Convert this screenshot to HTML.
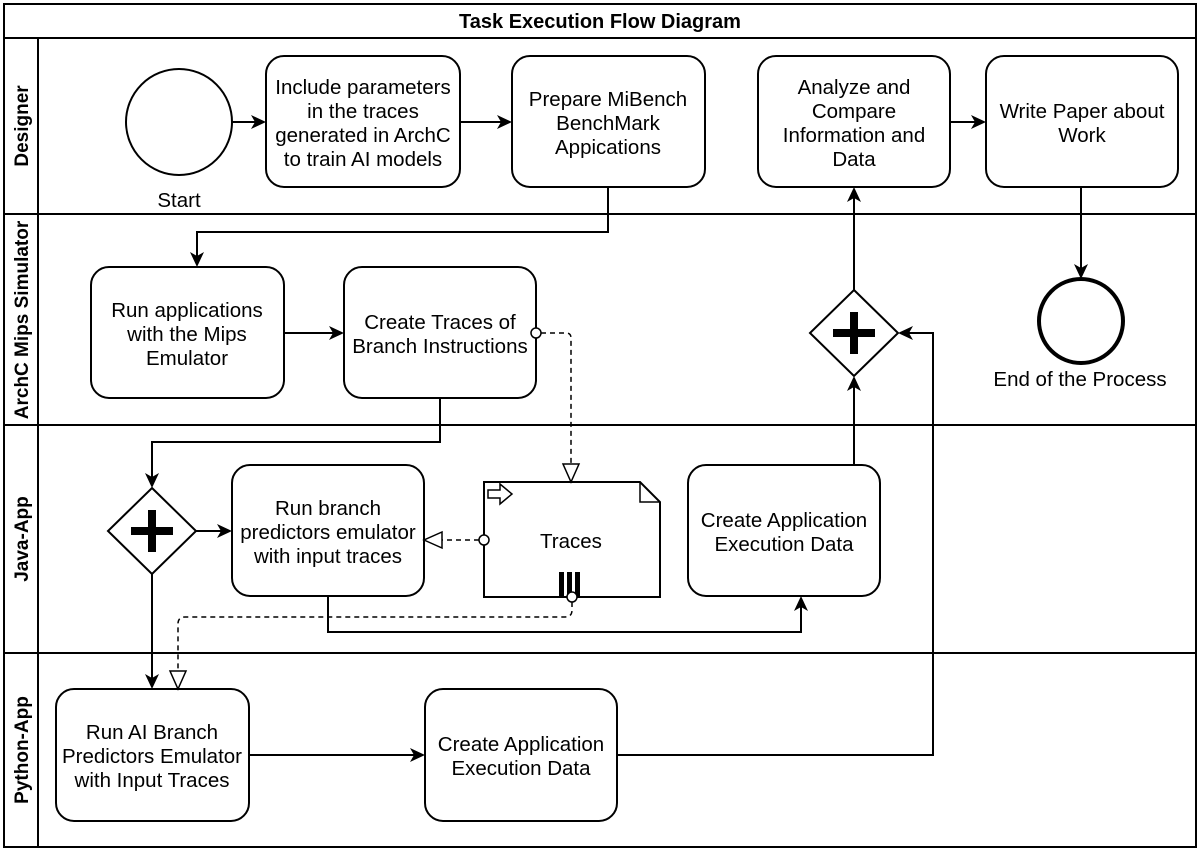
<!DOCTYPE html>
<html><head><meta charset="utf-8"><style>
html,body{margin:0;padding:0;background:#fff;}
svg{display:block;}
text{font-family:"Liberation Sans",Arial,sans-serif;fill:#000;}
.t{font-size:20.5px;text-anchor:middle;}
.l{font-size:19px;font-weight:bold;text-anchor:middle;}
.lt{font-size:20px;font-weight:bold;text-anchor:middle;}
</style></head><body>
<svg width="1200" height="851" viewBox="0 0 1200 851" xmlns="http://www.w3.org/2000/svg">
<defs>
<path id="ar" d="M0,0 L-15,-7 L-11,0 L-15,7 Z" fill="#000"/>
<path id="hw" d="M0,0 L-18,-8 L-18,8 Z" fill="#fff" stroke="#000" stroke-width="1.5"/>
</defs>
<g fill="none" stroke="#000" stroke-width="2">
<rect x="4" y="4" width="1192" height="843"/>
<line x1="4" y1="38" x2="1196" y2="38"/>
<line x1="38" y1="38" x2="38" y2="847"/>
<line x1="4" y1="214" x2="1196" y2="214"/>
<line x1="4" y1="425" x2="1196" y2="425"/>
<line x1="4" y1="653" x2="1196" y2="653"/>
</g>
<text x="600" y="28" class="lt">Task Execution Flow Diagram</text>
<text class="l" transform="translate(28,126) rotate(-90)">Designer</text>
<text class="l" transform="translate(28,320) rotate(-90)">ArchC Mips Simulator</text>
<text class="l" transform="translate(28,539) rotate(-90)">Java-App</text>
<text class="l" transform="translate(28,750) rotate(-90)">Python-App</text>

<g fill="#fff" stroke="#000" stroke-width="2">
<circle cx="179" cy="122" r="53"/>
<rect x="266" y="56" width="194" height="131" rx="18"/>
<rect x="512" y="56" width="193" height="131" rx="18"/>
<rect x="758" y="56" width="192" height="131" rx="18"/>
<rect x="986" y="56" width="192" height="131" rx="18"/>
<circle cx="1081" cy="321" r="42" stroke-width="4"/>
<rect x="91" y="267" width="193" height="131" rx="18"/>
<rect x="344" y="267" width="192" height="131" rx="18"/>
<path d="M854,290 L898,333 L854,376 L810,333 Z"/>
<path d="M152,488 L196,531 L152,574 L108,531 Z"/>
<rect x="232" y="465" width="192" height="131" rx="18"/>
<path d="M484,482 L640,482 L660,502 L660,597 L484,597 Z"/>
<rect x="688" y="465" width="192" height="131" rx="18"/>
<rect x="56" y="689" width="193" height="132" rx="18"/>
<rect x="425" y="689" width="192" height="132" rx="18"/>
</g>
<path d="M640,482 L640,502 L660,502" fill="none" stroke="#000" stroke-width="1.5"/>
<path d="M488,490 L500,490 L500,484 L512,494 L500,504 L500,498 L488,498 Z" fill="#fff" stroke="#000" stroke-width="1.5"/>
<rect x="559" y="572" width="5" height="25" fill="#000"/>
<rect x="567" y="572" width="5" height="25" fill="#000"/>
<rect x="575" y="572" width="5" height="25" fill="#000"/>
<g fill="#000">
<rect x="833" y="329" width="42" height="8"/><rect x="850" y="312" width="8" height="42"/>
<rect x="131" y="527" width="42" height="8"/><rect x="148" y="510" width="8" height="42"/>
</g>

<g fill="none" stroke="#000" stroke-width="2">
<path d="M232,122 L262,122"/>
<path d="M460,122 L508,122"/>
<path d="M608,187 L608,232 L197,232 L197,263"/>
<path d="M284,333 L340,333"/>
<path d="M440,398 L440,442 L152,442 L152,484"/>
<path d="M196,531 L228,531"/>
<path d="M328,596 L328,632 L801,632 L801,600"/>
<path d="M152,574 L152,685"/>
<path d="M249,755 L421,755"/>
<path d="M617,755 L933,755 L933,333 L902,333"/>
<path d="M854,465 L854,380"/>
<path d="M854,290 L854,191"/>
<path d="M950,122 L982,122"/>
<path d="M1081,187 L1081,275"/>
</g>
<use href="#ar" transform="translate(266,122)"/>
<use href="#ar" transform="translate(512,122)"/>
<use href="#ar" transform="translate(197,267) rotate(90)"/>
<use href="#ar" transform="translate(344,333)"/>
<use href="#ar" transform="translate(152,488) rotate(90)"/>
<use href="#ar" transform="translate(232,531)"/>
<use href="#ar" transform="translate(801,596) rotate(-90)"/>
<use href="#ar" transform="translate(152,689) rotate(90)"/>
<use href="#ar" transform="translate(425,755)"/>
<use href="#ar" transform="translate(898,333) rotate(180)"/>
<use href="#ar" transform="translate(854,376) rotate(-90)"/>
<use href="#ar" transform="translate(854,187) rotate(-90)"/>
<use href="#ar" transform="translate(986,122)"/>
<use href="#ar" transform="translate(1081,279) rotate(90)"/>

<g fill="none" stroke="#000" stroke-width="1.5" stroke-dasharray="5,4">
<path d="M541,333 L566,333 Q571,333 571,338 L571,464"/>
<path d="M479,540 L442,540"/>
<path d="M572,602 L572,610 Q572,617 565,617 L185,617 Q178,617 178,624 L178,671"/>
</g>
<use href="#hw" transform="translate(571,482) rotate(90)"/>
<use href="#hw" transform="translate(424,540) rotate(180)"/>
<use href="#hw" transform="translate(178,689) rotate(90)"/>
<g fill="#fff" stroke="#000" stroke-width="1.5">
<circle cx="536" cy="333" r="5"/>
<circle cx="484" cy="540" r="5"/>
<circle cx="572" cy="597" r="5"/>
</g>

<text class="t" x="179" y="207">Start</text>
<text class="t" x="363" y="94">Include parameters</text>
<text class="t" x="363" y="118">in the traces</text>
<text class="t" x="363" y="142">generated in ArchC</text>
<text class="t" x="363" y="166">to train AI models</text>
<text class="t" x="608" y="106">Prepare MiBench</text>
<text class="t" x="608" y="130">BenchMark</text>
<text class="t" x="608" y="154">Appications</text>
<text class="t" x="854" y="94">Analyze and</text>
<text class="t" x="854" y="118">Compare</text>
<text class="t" x="854" y="142">Information and</text>
<text class="t" x="854" y="166">Data</text>
<text class="t" x="1082" y="118">Write Paper about</text>
<text class="t" x="1082" y="142">Work</text>
<text class="t" x="1080" y="386">End of the Process</text>
<text class="t" x="187" y="317">Run applications</text>
<text class="t" x="187" y="341">with the Mips</text>
<text class="t" x="187" y="365">Emulator</text>
<text class="t" x="440" y="329">Create Traces of</text>
<text class="t" x="440" y="353">Branch Instructions</text>
<text class="t" x="328" y="515">Run branch</text>
<text class="t" x="328" y="539">predictors emulator</text>
<text class="t" x="328" y="563">with input traces</text>
<text class="t" x="571" y="548">Traces</text>
<text class="t" x="784" y="527">Create Application</text>
<text class="t" x="784" y="551">Execution Data</text>
<text class="t" x="152" y="739">Run AI Branch</text>
<text class="t" x="152" y="763">Predictors Emulator</text>
<text class="t" x="152" y="787">with Input Traces</text>
<text class="t" x="521" y="751">Create Application</text>
<text class="t" x="521" y="775">Execution Data</text>
</svg>
</body></html>
